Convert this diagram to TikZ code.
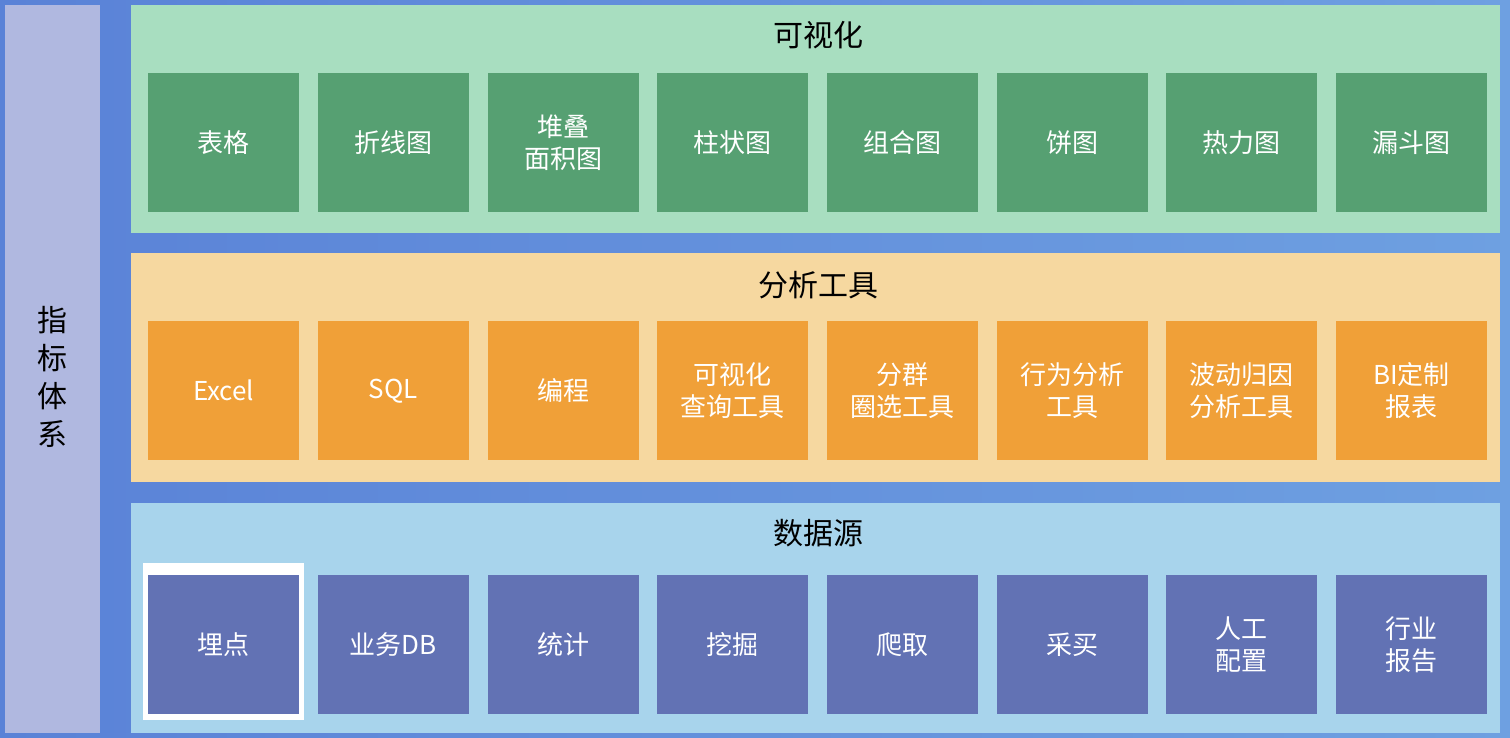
\documentclass[tikz,border=0pt]{standalone}
\usepackage{fontspec}
\setmainfont{Noto Sans CJK SC}
\definecolor{bgL}{RGB}{90,130,215}
\definecolor{bgR}{RGB}{110,160,225}
\definecolor{sidec}{RGB}{176,184,224}
\definecolor{p1}{RGB}{168,222,192}
\definecolor{p2}{RGB}{246,216,160}
\definecolor{p3}{RGB}{168,212,236}
\definecolor{c1}{RGB}{86,160,114}
\definecolor{c2}{RGB}{240,160,56}
\definecolor{c3}{RGB}{98,114,180}
\begin{document}
\begin{tikzpicture}[x=1pt,y=-1pt,
  cell/.style={minimum width=151pt,minimum height=139pt,inner sep=0pt,text=white,font=\fontsize{26}{32}\selectfont,align=center,anchor=north west},
  title/.style={font=\fontsize{30}{34}\selectfont,text=black}]
\shade[left color=bgL, right color=bgR] (0,0) rectangle (1510,738);
\useasboundingbox (0,0) rectangle (1510,738);
\fill[sidec] (5,5) rectangle (100,733);
\node[font=\fontsize{30}{38}\selectfont,align=center] (side) at (52,377) {指\\标\\体\\系};
\fill[p1] (131,5) rectangle (1500,233);
\fill[p2] (131,253) rectangle (1500,482);
\fill[p3] (131,503) rectangle (1500,733);
\node[title] (t1) at (818,35) {可视化};
\node[title] (t2) at (818,285) {分析工具};
\node[title] (t3) at (818,533) {数据源};
\fill[white] (143,563) rectangle (304,720);
\foreach \t [count=\i] in {表格,折线图,{堆叠\\面积图},柱状图,组合图,饼图,热力图,漏斗图}
  \node[cell,fill=c1] (v\i) at ({148+(\i-1)*169.7},73) {\t};
\foreach \t [count=\i] in {Excel,SQL,编程,{可视化\\查询工具},{分群\\圈选工具},{行为分析\\工具},{波动归因\\分析工具},{BI定制\\报表}}
  \node[cell,fill=c2] (a\i) at ({148+(\i-1)*169.7},321) {\t};
\foreach \t [count=\i] in {埋点,业务DB,统计,挖掘,爬取,采买,{人工\\配置},{行业\\报告}}
  \node[cell,fill=c3] (d\i) at ({148+(\i-1)*169.7},575) {\t};
\end{tikzpicture}
\end{document}
